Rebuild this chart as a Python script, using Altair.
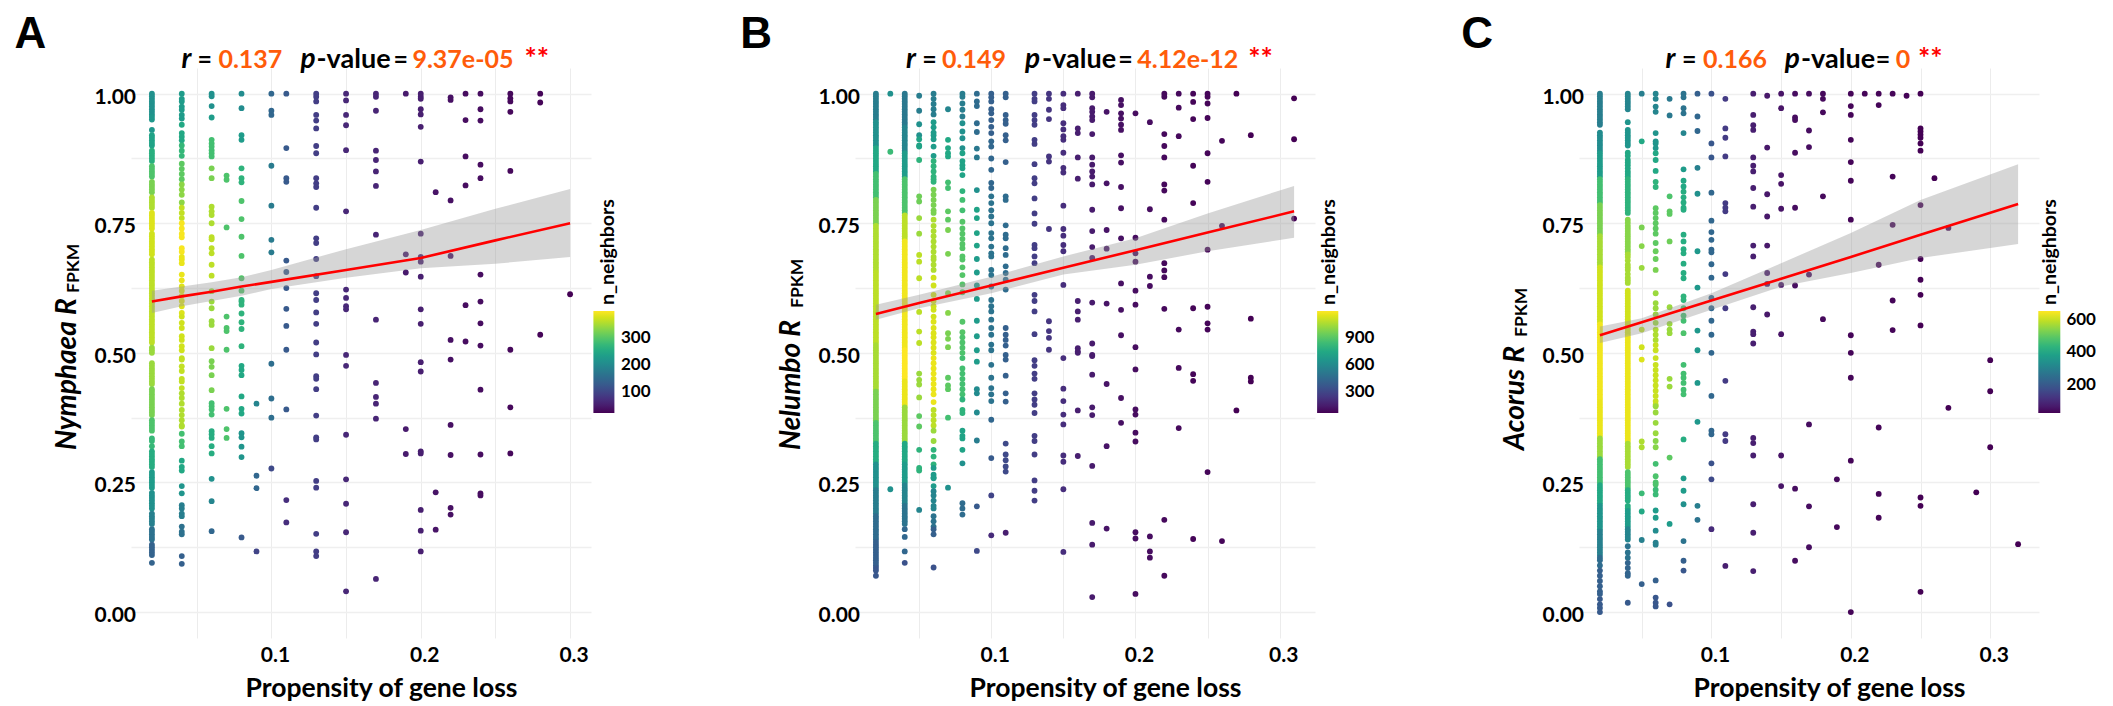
import altair as alt
import pandas as pd

FONT = "Lato"
ORANGE = "#FF5C0A"

# rows: (propensity of gene loss, n_neighbors, [R_FPKM values])
A_ROWS = [
 (.02,198,[1.00,.99,.98,.97,.96]),(.02,209,[.95,.93]),(.02,227,[.92,.91,.90]),(.02,246,[.89,.88,.87]),
 (.02,280,[.86,.85,.84]),(.02,309,[.83,.82,.81]),(.02,339,[.80,.79,.78]),(.02,365,[.77,.76,.75,.74]),
 (.02,358,[.73,.72,.71,.70,.69]),(.02,347,[.68,.67,.66,.65,.64,.63,.62,.61,.60,.59,.58,.57,.56,.55,.54,.53,.52]),
 (.02,328,[.51,.50,.48,.47,.46,.45,.44]),(.02,309,[.43,.42,.41,.40,.39,.38]),(.02,280,[.37,.36,.35]),
 (.02,261,[.335,.33,.32]),(.02,242,[.31,.30,.29,.28]),(.02,216,[.27,.26,.25,.24]),(.02,198,[.23,.22,.21,.20]),
 (.02,171,[.19,.18,.17]),(.02,149,[.16,.15,.14]),(.02,127,[.13,.12,.11,.095]),
 (.02,198,[.995,.985,.975,.965]),(.02,209,[.955]),(.02,227,[.915,.905]),(.02,246,[.885,.875]),(.02,280,[.855,.845]),
 (.02,309,[.825,.815]),(.02,339,[.795,.785]),(.02,365,[.765,.755,.745]),(.02,358,[.725,.715,.705,.695]),
 (.02,347,[.675,.665,.655,.645,.635,.625,.615,.605,.595,.585,.575,.565,.555,.545,.535,.525]),
 (.02,328,[.505,.475,.465,.455,.445]),(.02,309,[.425,.415,.405,.395,.385]),(.02,280,[.365,.355]),(.02,242,[.305,.295,.285]),
 (.02,216,[.265,.255,.245]),(.02,198,[.225,.215,.205]),(.02,171,[.185,.175]),(.02,149,[.155,.145]),(.02,127,[.125,.115]),
 (.04,216,[1.0,.99,.985,.975,.969,.959,.952]),(.04,235,[.94,.924,.917,.91]),(.04,260,[.90,.89,.88]),
 (.04,291,[.865,.855,.845,.835]),(.04,320,[.825,.815,.805,.79]),(.04,350,[.78,.77,.76]),(.04,380,[.75,.74,.73,.723,.702,.695]),
 (.04,372,[.685,.68,.673,.651,.64]),(.04,365,[.628,.62,.61,.60,.59,.577]),(.04,358,[.57,.558,.548,.532,.525,.513,.505]),
 (.04,350,[.49,.487,.474,.465,.45,.445,.432]),(.04,340,[.422,.413,.402,.39,.38,.37,.36,.358]),
 (.04,272,[.344,.329,.32]),(.04,235,[.292,.28,.273]),(.04,205,[.243,.229]),(.04,168,[.206,.20,.19,.185]),
 (.04,149,[.165,.15,.155]),(.04,123,[.108,.093]),
 (.06,198,[1.0,.995,.976]),(.06,216,[.954]),(.06,272,[.911,.904,.898,.891,.885,.879]),(.06,309,[.856,.837]),
 (.06,339,[.782,.773,.766,.75]),(.06,347,[.723,.719,.702,.692,.67,.649]),(.06,328,[.619,.599,.586,.561,.554,.509]),
 (.06,309,[.484,.473,.457,.428]),(.06,272,[.403,.397,.391,.381]),(.06,242,[.349,.343,.336,.320,.306]),
 (.06,198,[.257]),(.06,179,[.214]),(.06,134,[.156]),
 (.07,280,[.842,.834,.742,.57,.548,.542,.506,.392,.353,.336]),
 (.08,190,[1.0,.972]),(.08,216,[.92,.911]),(.08,253,[.856,.837,.829]),(.08,280,[.793,.758,.724,.687]),
 (.08,283,[.644,.62]),(.08,253,[.602,.599,.593,.576,.559,.546,.513]),(.08,235,[.475,.467,.457,.416,.392,.383]),
 (.08,205,[.345,.337,.319,.299]),(.08,115,[.144]),
 (.09,179,[.402]),(.09,134,[.263,.239]),(.09,86,[.117]),
 (.10,134,[1.0,.967,.959]),(.10,165,[.861,.784,.718,.694]),(.10,145,[.479,.412,.375]),(.10,93,[.277]),
 (.11,115,[1.0,.895,.837,.83,.678,.656,.625,.585,.552,.506,.391]),(.11,60,[.216,.173]),
 (.13,78,[1,.994,.985,.959,.948,.933,.899,.885,.837,.827,.82,.78,.721,.712,.681,.648,.615,.602,.578,.556,.52,.497,.455,.45,.43,.379,.337,.333,.253,.24,.151,.117,.108]),
 (.15,52,[1,.987,.959,.939,.891,.773,.622,.606,.59,.584,.496,.475,.342,.256,.209,.154,.04]),
 (.17,48,[1,.994,.967,.89,.872,.85,.822,.728,.564,.442,.415,.402,.373,.064]),
 (.19,37,[1,.69,.655,.353,.305]),
 (.20,41,[1,.994,.99,.97,.96,.936,.869,.73,.685,.676,.647,.584,.556,.482,.464,.31,.306,.197,.157,.117]),
 (.21,30,[.81,.231,.159]),
 (.22,26,[.993,.988,.794,.687,.525,.487,.361,.303,.201,.188]),
 (.23,22,[1,.949,.879,.823,.592,.522]),
 (.24,22,[1,.97,.948,.863,.837,.651,.599,.557,.514,.429,.304,.229,.225]),
 (.26,18,[1,.991,.985,.965,.851,.506,.395,.306]),
 (.28,15,[1,.983,.535]),
 (.30,11,[.613]),
]

B_ROWS = [
 (.02,495,[1.00,.99,.98,.97,.96,.95]),(.02,585,[.94,.93,.92,.91,.90]),(.02,699,[.89,.88,.87,.86,.85]),
 (.02,812,[.84,.83,.82,.81,.80]),(.02,925,[.79,.78,.77,.76,.75]),(.02,1016,[.74,.73,.72,.71,.70,.69,.68,.67,.66]),
 (.02,1039,[.65,.64,.63,.62,.61,.60,.59,.58,.57,.56,.55,.54,.53,.52]),(.02,1005,[.51,.50,.49,.48,.47,.46,.45,.44,.43]),
 (.02,925,[.42,.41,.40,.39,.38,.37]),(.02,835,[.36,.35,.34,.33]),(.02,721,[.32,.31,.30,.29]),(.02,585,[.28,.27,.26,.25,.24]),
 (.02,495,[.23,.22,.21,.20,.19]),(.02,416,[.18,.17,.16,.15,.14]),(.02,359,[.13,.12,.11,.10,.09]),(.02,325,[.085,.08,.07]),
 (.02,495,[.995,.985,.975,.965,.955]),(.02,585,[.945,.935,.925,.915,.905]),(.02,699,[.895,.885,.875,.865,.855]),
 (.02,812,[.845,.835,.825,.815,.805]),(.02,925,[.795,.785,.775,.765,.755]),(.02,1016,[.745,.735,.725,.715,.705,.695,.685,.675,.665]),
 (.02,1039,[.655,.645,.635,.625,.615,.605,.595,.585,.575,.565,.555,.545,.535,.525]),(.02,1005,[.515,.505,.495,.485,.475,.465,.455,.445,.435]),
 (.02,925,[.425,.415,.405,.395,.385,.375]),(.02,835,[.365,.355,.345,.335]),(.02,721,[.325,.315,.305,.295]),(.02,585,[.285,.275,.265,.255,.245]),
 (.02,495,[.235,.225,.215,.205,.195]),(.02,416,[.185,.175,.165,.155,.145]),(.02,359,[.135,.125,.115,.105,.095]),
 (.03,585,[1.0,.237]),(.03,790,[.888]),
 (.04,472,[1.00,.99,.98,.97,.96,.95,.94]),(.04,529,[.93,.92,.91,.90,.89]),(.04,642,[.88,.87,.86,.85,.84]),
 (.04,835,[.83,.82,.81,.80,.79,.78,.77]),(.04,1039,[.76,.75,.74,.73,.72]),(.04,1130,[.71,.70,.69,.68,.67,.66,.65,.64,.63,.62,.61,.60,.59,.58,.57,.56,.55,.54,.53,.52,.51]),
 (.04,1152,[.50,.49,.48,.47,.46,.45]),(.04,1118,[.44,.43,.42,.41,.40]),(.04,982,[.39,.38,.37,.36,.35,.34,.33]),
 (.04,699,[.32,.31,.30,.29]),(.04,642,[.28,.27,.26,.25]),(.04,529,[.24,.23,.22,.21]),(.04,450,[.20,.19,.18,.17]),
 (.04,472,[.995,.985,.975,.965,.955,.945]),(.04,529,[.935,.925,.915,.905,.895]),(.04,642,[.885,.875,.865,.855,.845]),
 (.04,835,[.835,.825,.815,.805,.795,.785,.775]),(.04,1039,[.765,.755,.745,.735,.725]),(.04,1130,[.715,.705,.695,.685,.675,.665,.655,.645,.635,.625,.615,.605,.595,.585,.575,.565,.555,.545,.535,.525,.515]),
 (.04,1152,[.505,.495,.485,.475,.465,.455]),(.04,1118,[.445,.435,.425,.415,.405]),(.04,982,[.395,.385,.375,.365,.355,.345,.335]),
 (.04,699,[.325,.315,.305,.295]),(.04,642,[.285,.275,.265,.255]),(.04,529,[.245,.235,.225,.215]),(.04,450,[.205,.195,.185,.175]),
 (.04,393,[.16,.145,.117]),(.04,302,[.095]),
 (.05,495,[.996,.967]),(.05,585,[.941,.92]),(.05,676,[.912,.90,.898]),(.05,755,[.872]),(.05,903,[.802,.792]),(.05,982,[.76,.73]),
 (.05,1039,[.689,.676,.644,.579]),(.05,1039,[.541,.519]),(.05,982,[.46,.448,.439,.414]),(.05,869,[.378,.358]),(.05,755,[.313,.278,.273]),(.05,529,[.197]),
 (.06,495,[1,.99,.98,.97,.96]),(.06,642,[.945,.935,.925,.92,.912,.898,.88]),(.06,755,[.87,.86,.85,.84,.835,.83]),
 (.06,925,[.815,.805,.795,.785,.775,.77]),(.06,1016,[.757,.745,.735,.725,.715,.705,.695,.685,.68,.67,.66]),
 (.06,1073,[.645,.63,.612,.60,.59,.583,.57]),(.06,1095,[.56,.548,.538,.53,.52,.51,.50]),(.06,1118,[.49,.48,.47,.46,.45,.44,.43,.42,.405]),
 (.06,1039,[.39,.38,.37,.36]),(.06,982,[.35,.33]),(.06,755,[.313,.30,.285]),(.06,642,[.278,.265,.26,.258,.243]),
 (.06,529,[.233,.225,.215,.205,.20]),(.06,450,[.185,.175,.165]),(.06,359,[.16,.15]),(.06,302,[.086]),
 (.07,529,[.97]),(.07,699,[.911,.895,.885,.879]),(.07,812,[.829,.818]),(.07,869,[.773,.757]),(.07,925,[.737,.691]),(.07,948,[.615,.577]),
 (.07,925,[.538,.527,.511]),(.07,869,[.452,.437,.43]),(.07,812,[.375]),(.07,585,[.24]),
 (.08,495,[1,.994,.981,.969,.956]),(.08,585,[.943,.927,.914,.895]),(.08,676,[.885,.87,.862,.856,.843]),
 (.08,755,[.812]),(.08,812,[.795,.775]),(.08,850,[.753,.74,.73,.72,.71,.702,.686,.68,.665,.65,.632,.617,.56,.54]),
 (.08,835,[.53,.52,.51,.50]),(.08,812,[.49,.47,.46,.45,.44,.43,.42]),(.08,755,[.41,.39,.384]),(.08,676,[.35,.34,.335,.313]),
 (.08,585,[.287]),(.08,416,[.21,.20,.188]),
 (.09,416,[1,.985,.976,.943,.926]),(.09,472,[.894,.877]),(.09,585,[.814]),(.09,676,[.776,.76,.731,.707]),(.09,642,[.681,.655,.63,.604,.562,.532,.505,.483]),
 (.09,560,[.43,.422,.385]),(.09,495,[.331]),(.09,336,[.204]),(.09,268,[.118]),
 (.10,359,[1,.993,.985,.97,.962,.949,.936,.924]),(.10,393,[.908,.898,.875,.853,.828,.818]),(.10,450,[.802,.789,.775,.763,.75,.731,.721,.705,.692,.686,.66,.65,.628,.602,.59,.58,.564,.548,.535,.516,.505]),
 (.10,450,[.477,.452,.432,.42,.407]),(.10,393,[.371]),(.10,336,[.297]),(.10,246,[.225]),(.10,155,[.148]),
 (.11,359,[1,.993,.959,.949,.942,.92,.91,.868]),(.11,416,[.802,.795,.746,.728,.721,.702,.689,.667,.654,.641,.622]),
 (.11,359,[.548,.535,.525,.514,.496,.487,.456,.422,.406]),(.11,268,[.325,.304,.293,.281,.271]),(.11,110,[.153]),
 (.13,223,[1,.99,.985,.959,.949,.94,.911,.903,.864,.837,.827,.798,.769,.749,.708,.702,.686,.673,.612,.60,.58,.536,.486,.475,.46,.45,.422,.41,.40,.384,.34,.33,.304,.254,.234,.215]),
 (.14,189,[1,.99,.969,.951,.879,.869,.739,.561,.542,.529,.506]),
 (.15,166,[1,.978,.972,.943,.931,.918,.911,.886,.857,.848,.784,.739,.726,.708,.696,.631,.49,.431,.407,.381,.362,.302,.29,.237,.116]),
 (.16,110,[1,.933,.924,.877,.836,.60,.58,.564,.509,.503,.50,.389,.301]),
 (.17,98,[1,.993,.972,.965,.956,.949,.922,.877,.863,.85,.84,.825,.776,.735,.704,.683,.597,.518,.496,.494,.458,.395,.38,.282,.172,.13,.029]),
 (.18,76,[.965,.827,.737,.701,.595,.44,.32,.161]),
 (.19,64,[.988,.978,.962,.952,.94,.93,.881,.867,.82,.779,.721,.634,.583,.534,.413,.365]),
 (.20,53,[.962,.722,.692,.676,.62,.593,.511,.468,.391,.381,.346,.329,.154,.142,.035]),
 (.21,53,[.945,.777,.647,.629,.146,.117,.105]),
 (.22,42,[1,.994,.922,.899,.877,.825,.813,.757,.673,.659,.646,.585,.178,.07]),
 (.23,42,[1,.973,.918,.545,.471,.355]),
 (.24,30,[1,.984,.951,.861,.789,.586,.459,.446,.141]),
 (.25,30,[1,.994,.981,.953,.885,.83,.699,.589,.557,.545,.27]),
 (.26,30,[.909,.745,.137]),
 (.27,19,[1,.389]),
 (.28,19,[.92,.566,.452,.445]),
 (.31,19,[.991,.912,.759]),
]

C_ROWS = [
 (.02,262,[1.00,.99,.98,.97,.96,.95,.94]),(.02,298,[.925,.92,.91,.90,.89]),(.02,339,[.88,.87,.86,.85,.84]),
 (.02,429,[.83,.82,.81,.80,.79]),(.02,489,[.78,.77,.76,.75,.74,.73]),(.02,530,[.72,.71,.70,.69,.68,.67]),
 (.02,566,[.66,.65,.64,.63,.62,.61,.60,.59,.58,.57,.56]),(.02,596,[.55,.54,.53,.52,.51,.50,.49,.48,.47,.46,.45,.44,.43,.42,.41]),
 (.02,590,[.40,.39,.38,.37,.36,.35,.34]),(.02,518,[.33,.32,.31,.30]),(.02,429,[.29,.28,.27,.26,.25]),(.02,369,[.24,.23,.22,.21]),
 (.02,321,[.20,.19,.18,.17,.16]),(.02,268,[.15,.14,.13,.12,.11]),(.02,220,[.10,.09]),(.02,190,[.08,.07,.06,.05,.04,.035]),(.02,178,[.025,.015,.008,0]),
 (.02,262,[.995,.985,.975,.965,.955,.945]),(.02,298,[.915,.905,.895]),(.02,339,[.885,.875,.865,.855,.845]),
 (.02,429,[.835,.825,.815,.805,.795]),(.02,489,[.785,.775,.765,.755,.745,.735]),(.02,530,[.725,.715,.705,.695,.685,.675]),
 (.02,566,[.665,.655,.645,.635,.625,.615,.605,.595,.585,.575,.565]),(.02,596,[.555,.545,.535,.525,.515,.505,.495,.485,.475,.465,.455,.445,.435,.425,.415]),
 (.02,590,[.405,.395,.385,.375,.365,.355,.345]),(.02,518,[.335,.325,.315,.305]),(.02,429,[.295,.285,.275,.265,.255]),(.02,369,[.245,.235,.225,.215]),
 (.02,321,[.205,.195,.185,.175,.165]),(.02,268,[.155,.145,.135,.125,.115]),(.02,220,[.105]),
 (.04,280,[1,.99,.98,.97,.995,.985,.975]),(.04,321,[.945,.93,.92,.91,.90,.925,.915,.905]),(.04,369,[.886,.872,.862,.85,.84,.88,.867,.856,.845]),(.04,399,[.83,.82,.81,.80,.79,.78,.77,.835,.825,.815,.805,.795,.785,.775]),
 (.04,501,[.757,.745,.735,.725,.715,.705,.695,.751,.74,.73,.72,.71,.70]),(.04,530,[.685,.67,.66,.645,.635,.69,.678,.665,.652,.64]),(.04,566,[.62,.61,.60,.59,.58,.57,.56,.55,.54,.615,.605,.595,.585,.575,.565,.555,.545,.535]),
 (.04,590,[.53,.52,.51,.50,.49,.48,.47,.46,.45,.44,.43,.42,.41,.40,.39,.38,.37,.36,.35,.34,.33,.525,.515,.505,.495,.485,.475,.465,.455,.445,.435,.425,.415,.405,.395,.385,.375,.365,.355,.345,.335]),(.04,530,[.32,.31,.30,.29,.28,.325,.315,.305,.295,.285]),
 (.04,441,[.27,.26,.25,.24,.265,.255,.245]),(.04,381,[.23,.22,.215,.205,.20,.235,.225]),(.04,339,[.19,.18,.17,.165,.195,.185,.175]),(.04,280,[.16,.15,.14,.155,.145]),(.04,238,[.127,.115,.105]),
 (.04,202,[.095,.085,.075,.07]),(.04,178,[.018]),
 (.05,262,[1]),(.05,369,[.908]),(.05,489,[.742]),(.05,501,[.706]),(.05,518,[.664]),(.05,548,[.545]),(.05,566,[.511]),(.05,578,[.487]),(.05,536,[.329,.318]),
 (.05,417,[.229]),(.05,369,[.194]),(.05,268,[.139]),(.05,190,[.054]),
 (.06,280,[1,.99,.975,.965]),(.06,321,[.924,.908,.904,.895]),(.06,369,[.885,.872,.851]),(.06,399,[.83,.82]),(.06,459,[.779,.77,.76,.75,.74,.73,.712]),
 (.06,471,[.696,.681]),(.06,489,[.66]),(.06,518,[.615,.596,.586,.574,.558]),(.06,536,[.545,.535,.525]),(.06,560,[.515,.505,.49,.477,.467,.457,.447,.437,.427,.417,.407,.40]),
 (.06,518,[.397,.385,.365,.345]),(.06,501,[.33,.318]),(.06,429,[.286]),(.06,441,[.262,.25,.246]),(.06,417,[.236,.227]),(.06,339,[.196,.182]),
 (.06,298,[.157]),(.06,268,[.134,.13]),(.06,190,[.061]),(.06,172,[.028,.018,.011]),
 (.07,250,[.99,.958]),(.07,441,[.802]),(.07,459,[.773,.768]),(.07,477,[.715]),(.07,518,[.588,.556,.545,.538,.45,.435]),(.07,459,[.298]),(.07,339,[.17]),(.07,160,[.015]),
 (.08,238,[1,.993,.972,.962]),(.08,280,[.924]),(.08,339,[.854]),(.08,369,[.832,.821]),(.08,381,[.811,.80,.79,.78,.776,.728,.715,.70,.692,.672,.654,.644]),
 (.08,399,[.609,.602]),(.08,429,[.586,.572,.562]),(.08,441,[.538]),(.08,429,[.477,.46,.452,.442,.429,.42]),(.08,381,[.333]),(.08,339,[.258,.234]),
 (.08,310,[.208]),(.08,238,[.137]),(.08,190,[.099]),(.08,172,[.08]),
 (.09,190,[1]),(.09,208,[.956,.928]),(.09,268,[.857]),(.09,310,[.807]),(.09,329,[.696,.626,.543,.505,.442,.367]),(.09,262,[.205]),(.09,238,[.178]),
 (.10,160,[1]),(.10,172,[.904,.877]),(.10,208,[.809,.755,.733,.718,.699,.694,.671,.645,.606,.586,.562,.535,.50,.417,.35,.343]),(.10,160,[.287]),(.10,142,[.256]),(.10,83,[.16]),
 (.11,113,[.99,.933,.915,.879,.789,.78,.773,.652,.586,.446,.343,.33]),(.11,59,[.089]),
 (.13,59,[1,.959,.939,.93,.877,.861,.85,.818,.782,.707,.686,.588,.541,.536,.518,.336,.326,.302,.208,.153,.079]),
 (.14,47,[.996,.896,.806,.763,.707,.654,.633,.574]),
 (.15,41,[1,.972,.843,.826,.778,.631,.536,.302,.243]),
 (.16,29,[1,.954,.949,.886,.78,.63,.238,.099]),
 (.17,29,[1,.929,.897,.651,.362,.204,.125]),
 (.18,23,[1,.99,.964,.802,.565]),
 (.19,23,[.256,.164]),
 (.20,17,[1,.976,.959,.911,.868,.832,.757,.534,.50,.452,.292,0]),
 (.21,17,[1]),
 (.22,17,[1,.978,.67,.356,.228,.182]),
 (.23,17,[1,.84,.747,.601,.544]),
 (.24,14,[.996]),
 (.25,11,[1,.933,.927,.921,.915,.904,.89,.785,.681,.641,.612,.553,.221,.205,.039]),
 (.26,11,[.837]),
 (.27,11,[.741,.394]),
 (.29,11,[.231]),
 (.30,11,[.486,.426,.318]),
 (.32,11,[.131]),
]

A_BAND = dict(x=[.02,.04,.06,.08,.10,.15,.20,.25,.30],
              fit=[.599,.609,.618,.628,.637,.660,.683,.717,.750],
              low=[.577,.590,.600,.610,.623,.645,.663,.672,.685],
              up=[.620,.628,.636,.646,.660,.700,.737,.778,.816])
B_BAND = dict(x=[.02,.05,.10,.15,.20,.25,.31],
              fit=[.575,.596,.630,.664,.698,.732,.773],
              low=[.564,.586,.615,.651,.670,.696,.722],
              up=[.593,.612,.647,.686,.721,.769,.822])
C_BAND = dict(x=[.02,.05,.10,.15,.20,.25,.32],
              fit=[.534,.559,.601,.643,.685,.728,.787],
              low=[.519,.538,.583,.628,.654,.683,.710],
              up=[.551,.567,.615,.673,.731,.795,.864])

PANELS = [
 dict(label="A", lx=-116.6, rows=A_ROWS, band=A_BAND, xdom=[.006,.314], ndom=[11,384], ticks=[300,200,100],
      tick_y=[266,293.7,320.7], lab_y=[270,297,324], bar=(462.4,483.4), lab_x=490, title_x=483,
      genus="Nymphaea", sub_y=225,
      title=("0.137","9.37e-05"), tx=(50.4,66.4,87.4,169.4,185.5,262.6,281.4,393.4)),
 dict(label="B", lx=-114.7, rows=B_ROWS, band=B_BAND, xdom=[.0055,.3245], ndom=[19,1152], ticks=[900,600,300],
      tick_y=[265.7,293,319.7], lab_y=[270.3,297,323.7], bar=(462.1,483.3), lab_x=489.9, title_x=479.5,
      genus="Nelumbo", sub_y=240,
      title=("0.149","4.12e-12"), tx=(51.1,67.3,87,170,187,263.3,282.2,393.3)),
 dict(label="C", lx=-117.7, rows=C_ROWS, band=C_BAND, xdom=[.005,.335], ndom=[11,608], ticks=[600,400,200],
      tick_y=[244.3,278.5,312.7], lab_y=[251.7,284.3,317], bar=(459.3,481.3), lab_x=487.4, title_x=476.7,
      genus="Acorus", sub_y=269,
      title=("0.166","0"), tx=(86.6,103.1,124,205.7,222,296.8,316.7,339)),
]

W, H = 460, 570
YDOM = [-.05, 1.0495]
BLANK = alt.Data(values=[{"a": 1}])


def label(s, x, y, size, color="black", style="normal", weight="bold", angle=0, baseline="alphabetic", font=FONT):
    return alt.Chart(BLANK).mark_text(text=s, font=font, fontSize=size, fontWeight=weight, fontStyle=style,
                                      color=color, angle=angle, align="left", baseline=baseline
                                      ).encode(x=alt.value(x), y=alt.value(y))


def panel(p):
    pts = pd.DataFrame([{"x": x, "n": n, "y": y} for x, n, ys in p["rows"] for y in ys])
    bd = pd.DataFrame(p["band"])
    xs = alt.Scale(domain=p["xdom"], nice=False, zero=False)
    ys = alt.Scale(domain=YDOM, nice=False, zero=False)
    xaxis = alt.Axis(values=[.05, .1, .15, .2, .25, .3], title="Propensity of gene loss", titleFont=FONT,
                     titleFontSize=26.5, titleFontWeight="bold", titleColor="black", titleX=250, titleY=58.7,
                     titleBaseline="alphabetic", titleAnchor="middle", titleAlign="center",
                     labelFont=FONT, labelFontSize=21, labelFontWeight="bold", labelColor="black",
                     labelExpr="round(datum.value*100)%10==0 ? format(datum.value,'.1f') : ''",
                     labelOffset=3.5, labelPadding=6, labelOverlap=False, labelFlush=False, labelBound=False,
                     ticks=False, domain=False, grid=True, gridColor="#ececec", gridWidth=1)
    yaxis = alt.Axis(values=[0, .125, .25, .375, .5, .625, .75, .875, 1], title=None,
                     labelFont=FONT, labelFontSize=21, labelFontWeight="bold", labelColor="black",
                     labelExpr="round(datum.value*1000)%250==0 ? format(datum.value,'.2f') : ''",
                     labelOffset=3.5, labelPadding=-4.5, labelOverlap=False, labelFlush=False, labelBound=False,
                     ticks=False, domain=False, grid=True, gridColor="#efefef", gridWidth=1.5)
    color = alt.Color("n:Q", scale=alt.Scale(scheme="viridis", domain=p["ndom"]),
                      legend=alt.Legend(orient="none", legendX=p["bar"][0], legendY=243, direction="vertical",
                                        gradientLength=102, gradientThickness=p["bar"][1] - p["bar"][0],
                                        title=None, values=p["ticks"], labelOpacity=0, labelFontSize=1,
                                        gradientStrokeWidth=0))
    points = alt.Chart(pts).mark_circle(size=34, opacity=1).encode(
        x=alt.X("x:Q", scale=xs, axis=xaxis), y=alt.Y("y:Q", scale=ys, axis=yaxis), color=color)
    area = alt.Chart(bd).mark_area(color="#999999", opacity=0.4).encode(
        x=alt.X("x:Q", scale=xs), y=alt.Y("low:Q", scale=ys), y2="up:Q")
    line = alt.Chart(bd).mark_line(color="#FF0000", strokeWidth=2.6).encode(
        x=alt.X("x:Q", scale=xs), y=alt.Y("fit:Q", scale=ys))
    t = p["tx"]
    texts = [
        label(p["label"], p["lx"], -20, 44, font="Liberation Sans"),
        label("r", t[0], 0, 28, style="italic"), label("=", t[1], 0, 25),
        label(p["title"][0], t[2], 0, 25, ORANGE),
        label("p", t[3], 0, 28, style="italic"), label("-value", t[4], 0, 27), label("=", t[5], 0, 25),
        label(p["title"][1], t[6], 0, 25, ORANGE),
        label("**", t[7], 0, 29, "#FF0000"),
        label(p["genus"] + " R", -55.4, 382, 28, style="italic", angle=270),
        label("FPKM", -52.2, p["sub_y"], 17.5, angle=270),
        label("n_neighbors", p["title_x"], 237, 19.5, angle=270),
    ]
    for v, ty, ly in zip(p["ticks"], p["tick_y"], p["lab_y"]):
        texts.append(label(str(v), p["lab_x"], ly, 17, baseline="middle"))
        for a, b in ((p["bar"][0], p["bar"][0] + 4), (p["bar"][1] - 4, p["bar"][1])):
            texts.append(alt.Chart(BLANK).mark_rule(color="white", strokeWidth=1).encode(
                x=alt.value(a), x2=alt.value(b), y=alt.value(ty)))
    return alt.layer(points, area, line, *texts).properties(width=W, height=H)


chart = alt.hconcat(*[panel(p) for p in PANELS], spacing=264, bounds="flush").resolve_scale(
    color="independent", x="independent", y="independent"
).configure_view(stroke=None).properties(padding={"left": 6, "top": 5, "right": 0, "bottom": 0})

chart.save("out.html", embed_options={"renderer": "svg", "actions": False})
